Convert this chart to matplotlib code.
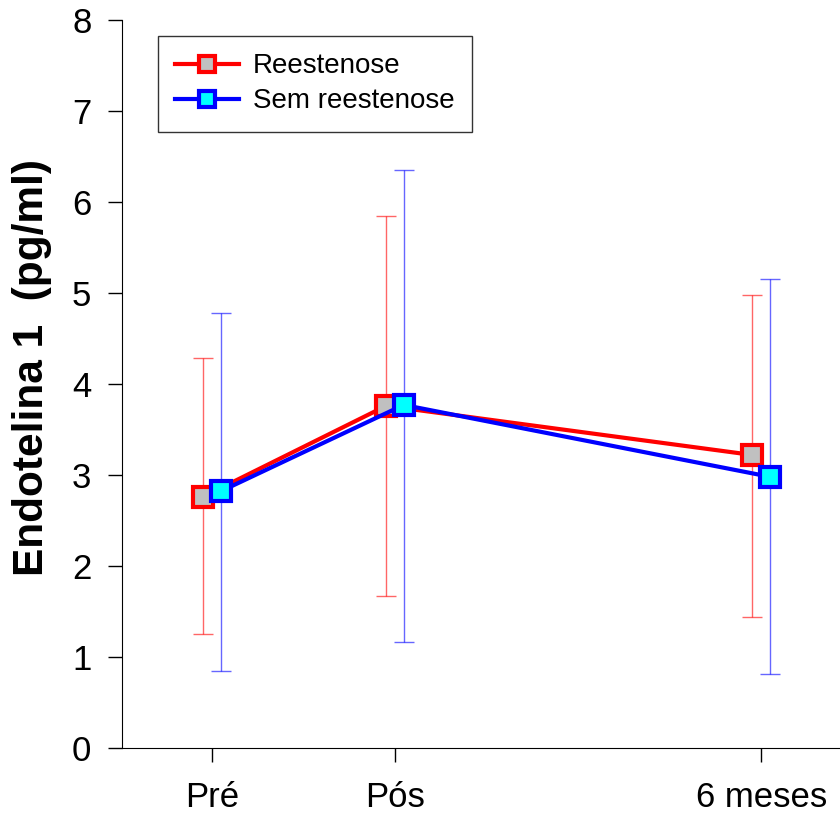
import numpy as np
import matplotlib
matplotlib.use("Agg")
import matplotlib.pyplot as plt

plt.rcParams['font.family'] = ['Liberation Sans', 'DejaVu Sans']

periods = ["Pré", "Pós", "6 meses"]
period_x = [0, 1, 3]

reest_mean = [2.76, 3.76, 3.22]
reest_low = [1.25, 1.67, 1.44]
reest_high = [4.29, 5.85, 4.98]

sem_mean = [2.82, 3.77, 2.98]
sem_low = [0.85, 1.16, 0.81]
sem_high = [4.78, 6.35, 5.15]

shift = 0.048

fig = plt.figure(figsize=(8.4, 8.19), dpi=100)
ax = fig.add_axes([122/840, 71/819, 718/840, 728/819])

def draw(xs, mean, low, high, color, face, label):
    xs = np.array(xs, dtype=float)
    mean = np.array(mean)
    yerr = [mean - np.array(low), np.array(high) - mean]
    ax.errorbar(xs, mean, yerr=yerr, fmt='none', ecolor=color, elinewidth=1,
                capsize=7, capthick=1, alpha=0.6, zorder=2)
    ax.plot(xs, mean, '-s', color=color, lw=3, ms=15, mfc=face, mec=color,
            mew=3, label=label, zorder=3)

draw(np.array(period_x) - shift, reest_mean, reest_low, reest_high, 'red', '#c0c0c0', 'Reestenose')
draw(np.array(period_x) + shift, sem_mean, sem_low, sem_high, 'blue', 'cyan', 'Sem reestenose')

ax.set_xlim(-0.49, 3.43)
ax.set_ylim(0, 8)
ax.set_xticks(period_x)
ax.set_xticklabels(periods)
ax.set_yticks(range(0, 9))
ax.tick_params(axis='both', labelsize=25, direction='out', length=10, width=1)
ax.tick_params(axis='x', pad=14)
ax.tick_params(axis='y', pad=12)
ax.spines['top'].set_visible(False)
ax.spines['right'].set_visible(False)
ax.set_ylabel("Endotelina 1  (pg/ml)", fontsize=30.5, fontweight='bold')
ax.yaxis.set_label_coords(-0.098, 0.523)

leg = ax.legend(loc='upper left', bbox_to_anchor=(0.05, 0.978), fontsize=20,
                frameon=True, fancybox=False, edgecolor='black', borderpad=0.62,
                handlelength=2.3, handletextpad=0.5, labelspacing=0.33,
                markerscale=0.75, borderaxespad=0)
leg.get_frame().set_linewidth(1)

fig.savefig("out.png", dpi=100)
